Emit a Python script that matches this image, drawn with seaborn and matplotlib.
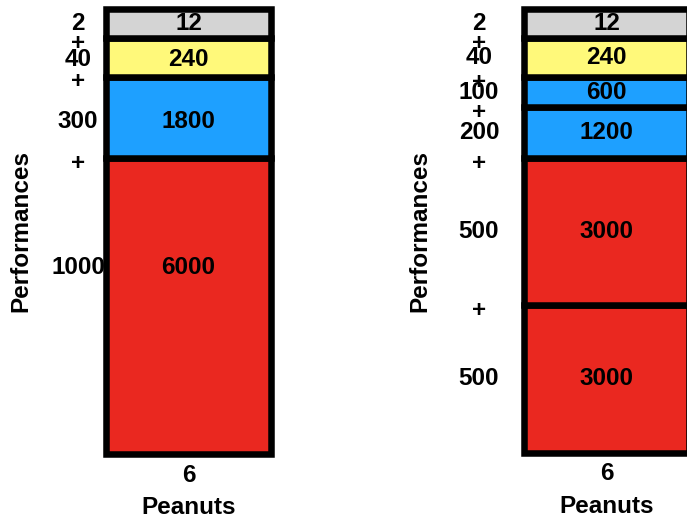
import matplotlib
matplotlib.use("Agg")
import matplotlib.pyplot as plt
import matplotlib.transforms as mtransforms
import seaborn as sns

# data (segments listed bottom -> top)
peanuts = "6"
left_perf = [1000, 300, 40, 2]
left_total = [6000, 1800, 240, 12]
left_heights = [296, 81, 39, 29]   # drawn heights, not to scale with the values

right_perf = [500, 500, 200, 100, 40, 2]
right_total = [3000, 3000, 1200, 600, 240, 12]
right_heights = [147, 147, 51, 30, 39, 29]

left_colors = ['#EA2820', '#1EA0FF', '#FFF97A', '#D4D4D4']
right_colors = ['#EA2820', '#EA2820', '#1EA0FF', '#1EA0FF', '#FFF97A', '#D4D4D4']

# where the labels sit inside each segment (fraction from its bottom)
left_label_at = [0.63, 0.45, 0.45, 0.5]
right_label_at = [0.5, 0.5, 0.5, 0.5, 0.5, 0.5]

sns.set_theme(style='white')
plt.rcParams['font.family'] = ['Liberation Sans', 'DejaVu Sans']
plt.rcParams['font.weight'] = 'bold'
plt.rcParams['text.color'] = 'black'
plt.rcParams['xtick.color'] = 'black'
plt.rcParams['axes.labelcolor'] = 'black'

W, H = 687, 521
fig = plt.figure(figsize=(W / 100, H / 100), dpi=100)

FS = 17.5
LW = 4.7


def stacked_panel(ax_box, perf, total, heights, colors, label_at, col_x, ylab_x):
    ax = fig.add_axes(ax_box)
    bottom = 0
    mids = []
    tops = []
    for h, c, f in zip(heights, colors, label_at):
        sns.barplot(x=[peanuts], y=[h], bottom=bottom, color=c, saturation=1,
                    width=1, edgecolor='black', linewidth=LW, ax=ax)
        mids.append(bottom + h * f)
        bottom += h
        tops.append(bottom)
    for p in ax.patches:
        p.set_clip_on(False)
    ax.set_xlim(-0.5, 0.5)
    ax.set_ylim(0, bottom)
    sns.despine(ax=ax, left=True, bottom=True)
    ax.set_yticks([])
    ax.tick_params(axis='x', length=0, labelsize=FS, pad=7)
    for t in ax.get_xticklabels():
        t.set_fontweight('bold')
    ax.set_xlabel('Peanuts', fontsize=FS, fontweight='bold', labelpad=7)
    ax.set_ylabel('')

    # numbers inside the bar
    for y, v in zip(mids, total):
        ax.text(0, y, str(v), ha='center', va='center', fontsize=FS, fontweight='bold')

    # the "a + b + c" column on the left of the bar
    tr = mtransforms.blended_transform_factory(fig.transFigure, ax.transData)
    for y, v in zip(mids, perf):
        ax.text(col_x / W, y, str(v), ha='center', va='center', fontsize=FS,
                fontweight='bold', transform=tr)
    for y in tops[:-1]:
        ax.text(col_x / W, y - 5, '+', ha='center', va='center', fontsize=FS,
                fontweight='bold', transform=tr)

    fig.text(ylab_x / W, ax_box[1] + ax_box[3] / 2, 'Performances',
             rotation=90, ha='center', va='center', fontsize=FS, fontweight='bold')
    return ax


stacked_panel([106 / W, 1 - 454 / H, 165 / W, 445 / H],
              left_perf, left_total, left_heights, left_colors, left_label_at,
              col_x=78, ylab_x=21)
stacked_panel([524 / W, 1 - 452.5 / H, 165 / W, 443.5 / H],
              right_perf, right_total, right_heights, right_colors, right_label_at,
              col_x=479, ylab_x=420)

fig.savefig('out.png', dpi=100)
